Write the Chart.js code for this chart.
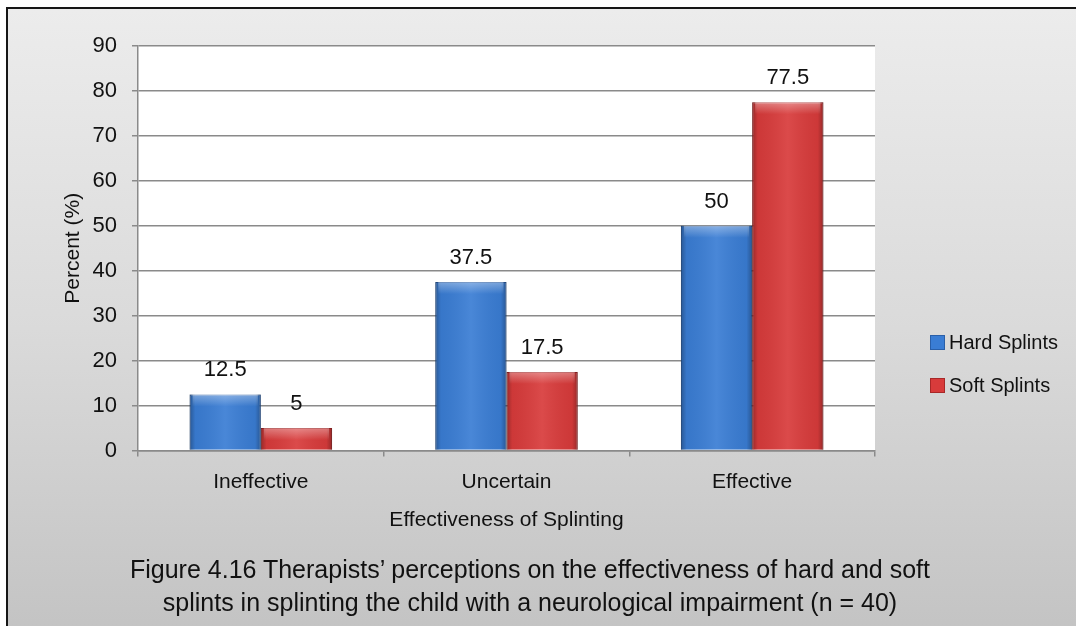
<!DOCTYPE html>
<html>
<head>
<meta charset="utf-8">
<script src="https://cdn.jsdelivr.net/npm/chart.js@4"></script>
<style>
  html, body { margin: 0; padding: 0; width: 1076px; height: 626px; overflow: hidden; }
  #fundo {
    position: absolute; left: 6px; top: 7px; width: 1100px; height: 640px;
    border-left: 2px solid #161616; border-top: 2px solid #161616;
    background: linear-gradient(to bottom, #ececec 0%, #dadada 50%, #c2c2c2 100%);
  }
  #grafico { position: absolute; left: 0; top: 0; }
  #legenda-fig {
    position: absolute; left: 0; width: 1060px; top: 553px; text-align: center;
    font-family: 'Liberation Sans Narrow', 'Arial Narrow', 'Liberation Sans', sans-serif; font-size: 25px; line-height: 33px; color: #111;
  }
</style>
</head>
<body>
<div id="fundo"></div>
<canvas id="grafico" width="1076" height="626"></canvas>
<div id="legenda-fig">Figure 4.16 Therapists’ perceptions on the effectiveness of hard and soft<br>splints in splinting the child with a neurological impairment (n = 40)</div>
<script>
const categorias = ['Ineffective', 'Uncertain', 'Effective'];
const seriesNomes = ['Hard Splints', 'Soft Splints'];
const valoresHard = [12.5, 37.5, 50];
const valoresSoft = [5, 17.5, 77.5];
const ticksY = [0, 10, 20, 30, 40, 50, 60, 70, 80, 90];

const fonte = "'Liberation Sans Narrow', 'Arial Narrow', 'Liberation Sans', sans-serif";
const corHard = '#3a7dd4';
const corSoft = '#d83b3b';

// fundo branco da area do grafico
const pluginArea = {
  id: 'areaBranca',
  beforeDraw(chart) {
    const { ctx, chartArea: a } = chart;
    ctx.save();
    ctx.fillStyle = '#ffffff';
    ctx.fillRect(a.left, a.top, a.right - a.left, a.bottom - a.top);
    ctx.restore();
  }
};

// efeito de bisel nas barras + rotulos de valor
const pluginBarras = {
  id: 'barras3d',
  afterDatasetsDraw(chart) {
    const ctx = chart.ctx;
    chart.data.datasets.forEach((ds, i) => {
      chart.getDatasetMeta(i).data.forEach((bar, j) => {
        const p = bar.getProps(['x', 'y', 'base', 'width'], true);
        const x0 = p.x - p.width / 2, w = p.width, y0 = p.y, h = p.base - p.y;
        ctx.save();
        let g = ctx.createLinearGradient(x0, 0, x0 + w, 0);
        g.addColorStop(0, 'rgba(0,0,0,0.30)');
        g.addColorStop(0.08, 'rgba(0,0,0,0.05)');
        g.addColorStop(0.5, 'rgba(255,255,255,0.08)');
        g.addColorStop(0.92, 'rgba(0,0,0,0.05)');
        g.addColorStop(1, 'rgba(0,0,0,0.30)');
        ctx.fillStyle = g;
        ctx.fillRect(x0, y0, w, h);
        const hTopo = Math.min(12, h);
        let g2 = ctx.createLinearGradient(0, y0, 0, y0 + hTopo);
        g2.addColorStop(0, 'rgba(255,255,255,0.35)');
        g2.addColorStop(1, 'rgba(255,255,255,0)');
        ctx.fillStyle = g2;
        ctx.fillRect(x0 + 3, y0, w - 6, hTopo);
        ctx.fillStyle = '#111';
        ctx.font = '22px ' + fonte;
        ctx.textAlign = 'center';
        ctx.textBaseline = 'bottom';
        ctx.fillText(String(ds.data[j]), p.x, p.y - 13);
        ctx.restore();
      });
    });
  }
};

// legenda desenhada a direita da area
const pluginLegenda = {
  id: 'legendaLado',
  afterDraw(chart) {
    const { ctx, chartArea: a } = chart;
    ctx.save();
    ctx.font = '20px ' + fonte;
    ctx.textBaseline = 'middle';
    chart.data.datasets.forEach((ds, i) => {
      const bx = a.right + 55;
      const cy = a.top + 296 + i * 43;
      ctx.fillStyle = ds.backgroundColor;
      ctx.fillRect(bx, cy - 7, 15, 15);
      ctx.strokeStyle = ds.borderColor;
      ctx.lineWidth = 1;
      ctx.strokeRect(bx + 0.5, cy - 6.5, 14, 14);
      ctx.fillStyle = '#111';
      ctx.fillText(ds.label, bx + 19, cy + 1);
    });
    ctx.restore();
  }
};

new Chart(document.getElementById('grafico'), {
  type: 'bar',
  data: {
    labels: categorias,
    datasets: [
      { label: seriesNomes[0], data: valoresHard, backgroundColor: corHard, borderColor: '#2a5fa8', borderWidth: 1 },
      { label: seriesNomes[1], data: valoresSoft, backgroundColor: corSoft, borderColor: '#a82828', borderWidth: 1 }
    ]
  },
  options: {
    responsive: false,
    animation: false,
    devicePixelRatio: 1,
    layout: { padding: { left: 8, right: 201, top: 46, bottom: 93 } },
    datasets: { bar: { categoryPercentage: 0.58, barPercentage: 1 } },
    plugins: { legend: { display: false }, tooltip: { enabled: false } },
    scales: {
      x: {
        grid: { display: true, drawOnChartArea: false, offset: true, tickLength: 6, color: '#8a8a8a', lineWidth: 1.5 },
        border: { color: '#8a8a8a', width: 1.5 },
        ticks: { color: '#111', font: { family: fonte, size: 21 }, padding: 13 },
        title: { display: true, text: 'Effectiveness of Splinting', color: '#111', font: { family: fonte, size: 21 }, padding: { top: 0, bottom: 0 } }
      },
      y: {
        min: 0, max: 90,
        afterBuildTicks(scale) { scale.ticks = ticksY.map(v => ({ value: v })); },
        afterFit(scale) { scale.width = 130; },
        grid: { color: '#8a8a8a', lineWidth: 1.5, tickLength: 6 },
        border: { color: '#8a8a8a', width: 1.5 },
        ticks: { color: '#111', font: { family: fonte, size: 22 }, padding: 15 },
        title: { display: true, text: 'Percent (%)', color: '#111', font: { family: fonte, size: 21 }, padding: { top: 53, bottom: 10 } }
      }
    }
  },
  plugins: [pluginArea, pluginBarras, pluginLegenda]
});
</script>
</body>
</html>
